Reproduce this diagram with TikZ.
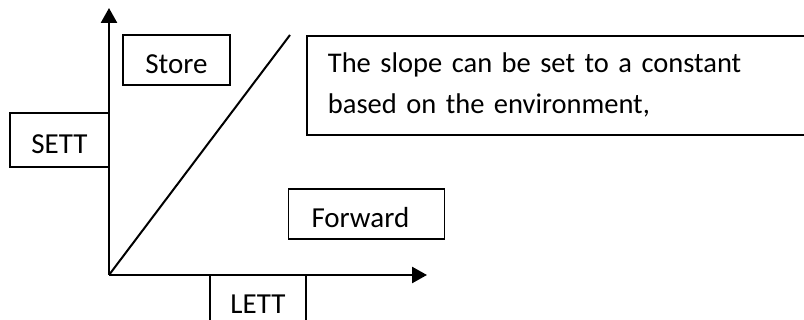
\documentclass[tikz,border=0pt]{standalone}
\usepackage{fontspec}
\setmainfont{Carlito}
\usetikzlibrary{arrows.meta}
\begin{document}
\begin{tikzpicture}[x=1pt,y=-1pt,
  axis/.style={line width=2.6pt,-{Triangle[length=15pt,width=16pt]}},
  slopeline/.style={line width=2pt},
  labelbox/.style={draw,line width=1.8pt,inner sep=0pt,text height=27pt,text depth=0pt,
    font=\fontsize{29}{41}\selectfont},
  notebox/.style={draw,line width=1.8pt,inner xsep=21pt,inner ysep=0pt,minimum height=99pt,
    text width=478pt,align=left,font=\fontsize{28.5}{41}\selectfont}]
\useasboundingbox (0,0) rectangle (804,320);
\clip (0,0) rectangle (804,320);
\fill[white] (0,0) rectangle (804,320);
\coordinate (O) at (109,275);
\coordinate (ytip) at (109,8);
\coordinate (xtip) at (427,275);
\coordinate (send) at (290,35);
\node[labelbox,minimum width=107pt,minimum height=50pt] (store) at (176.5,60) {Store};
\node[labelbox,minimum width=99pt,minimum height=54pt] (sett) at (59.5,140) {SETT};
\node[labelbox,inner xsep=23pt,text width=110pt,align=left,minimum height=50pt] (fwd) at (366.5,214) {Forward};
\node[labelbox,minimum width=96pt,minimum height=50pt] (lett) at (258,300) {LETT};
\node[notebox,anchor=north west] (note) at (306,35) {The slope can be set to a constant\\based on the environment,};
\draw[slopeline] (O) -- (send);
\draw[axis] (O) -- (ytip);
\draw[axis] (O) -- (xtip);
\end{tikzpicture}
\end{document}
